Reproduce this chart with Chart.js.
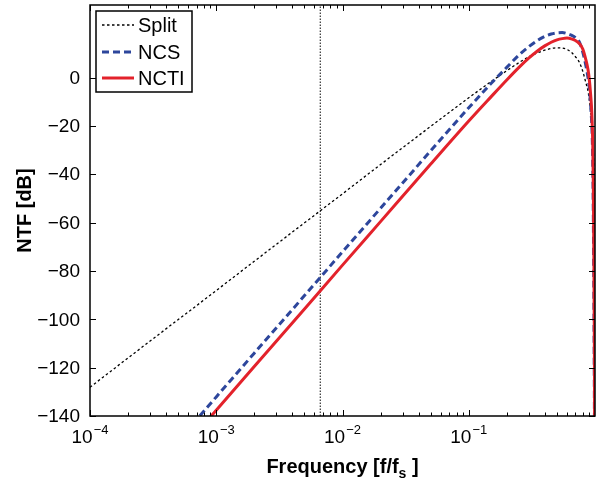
<!DOCTYPE html>
<html>
<head>
<meta charset="utf-8">
<script src="https://cdn.jsdelivr.net/npm/chart.js"></script>
<style>
  html, body { margin: 0; padding: 0; background: #fff; }
  #wrap { width: 596px; height: 482px; }
</style>
</head>
<body>
<div id="wrap"><canvas id="ntf" width="596" height="482"></canvas></div>
<script>
// frecuencia normalizada f/fs (eje log)
const freq = [1e-4, 2e-4, 5e-4, 7e-4, 1e-3, 2e-3, 5e-3, 1e-2, 2e-2, 5e-2,
  0.1, 0.15, 0.2, 0.25, 0.3, 0.35, 0.4, 0.45, 0.5, 0.55,
  0.6, 0.65, 0.7, 0.75, 0.8, 0.85, 0.88, 0.9, 0.92, 0.94,
  0.95, 0.96, 0.97, 0.98, 0.99, 0.995];

// NTF en dB
const splitDb = [-128.1, -116.0, -100.1, -94.3, -88.1, -76.0, -60.1, -48.1, -36.0, -20.2,
  -8.4, -1.7, 2.8, 6.2, 8.6, 10.2, 11.3, 12.0, 12.3, 12.2,
  11.6, 10.4, 8.6, 6.4, 2.6, -2.5, -5.5, -9, -13, -18,
  -21, -25, -30, -37, -49, -61];
const ncsDb = [null, null, -150.2, -141.4, -132.1, -114.0, -90.2, -72.1, -54.1, -30.3,
  -12.5, -2.5, 4.2, 9.3, 12.8, 15.3, 17.0, 18.0, 18.5, 18.6,
  18.2, 17.5, 16.5, 14.8, 10.5, 4.5, 0, -4, -10, -18,
  -24, -36, -58, -92, -140, -175];
const nctiDb = [null, null, null, -147, -137.6, -119.5, -95.7, -77.6, -59.6, -35.8,
  -18.0, -8.0, -1.0, 4.2, 8.1, 11.0, 13.1, 14.6, 15.6, 16.1,
  16.3, 16.0, 15.3, 14.1, 11.8, 7.0, 3.3, -0.5, -6, -13,
  -19, -28, -45, -75, -118, -160];

// línea vertical punteada
const markerFreq = 0.00667;

// ticks
const xDecades = [1e-4, 1e-3, 1e-2, 1e-1, 1];
const yTicks = [-140, -120, -100, -80, -60, -40, -20, 0];
const xRange = [1e-4, 1];
const yRange = [-140, 30];

const FONT = "'Liberation Sans', Arial, Helvetica, sans-serif";

function toPoints(xs, ys) {
  return xs.map((f, i) => ({ x: f, y: ys[i] }));
}

const series = [
  { label: 'Split', data: toPoints(freq, splitDb), borderColor: '#000', borderWidth: 1.3, borderDash: [2.5, 2.5], order: 2 },
  { label: 'NCS', data: toPoints(freq, ncsDb), borderColor: '#2d469c', borderWidth: 3, borderDash: [7, 4], order: 1 },
  { label: 'NCTI', data: toPoints(freq, nctiDb), borderColor: '#e3222b', borderWidth: 3, borderDash: [], order: 0 }
];

// ejes estilo MATLAB: caja, ticks hacia adentro, etiquetas, leyenda
const ejesMatlab = {
  id: 'ejesMatlab',
  afterDraw(chart) {
    const { ctx, chartArea: a, scales: { x, y } } = chart;
    ctx.save();
    ctx.strokeStyle = '#000';
    ctx.fillStyle = '#000';

    // ticks x (mayores y menores), arriba y abajo
    ctx.lineWidth = 1;
    ctx.beginPath();
    for (let k = 0; k < xDecades.length - 1; k++) {
      for (let m = 1; m <= 9; m++) {
        const px = Math.round(x.getPixelForValue(m * xDecades[k])) + 0.5;
        const len = m === 1 ? 6 : 3.5;
        ctx.moveTo(px, a.bottom); ctx.lineTo(px, a.bottom - len);
        ctx.moveTo(px, a.top); ctx.lineTo(px, a.top + len);
      }
    }
    yTicks.forEach(v => {
      const py = Math.round(y.getPixelForValue(v)) + 0.5;
      ctx.moveTo(a.left, py); ctx.lineTo(a.left + 6, py);
      ctx.moveTo(a.right, py); ctx.lineTo(a.right - 6, py);
    });
    ctx.stroke();

    // caja
    ctx.lineWidth = 1.5;
    ctx.strokeRect(a.left, a.top, a.right - a.left, a.bottom - a.top);

    // etiquetas y
    ctx.font = '19px ' + FONT;
    ctx.textAlign = 'right';
    ctx.textBaseline = 'middle';
    yTicks.forEach(v => {
      const txt = v < 0 ? '\u2212' + Math.abs(v) : String(v);
      ctx.fillText(txt, 80, y.getPixelForValue(v) + 1);
    });

    // etiquetas x: 10^k
    ctx.textAlign = 'left';
    ctx.textBaseline = 'alphabetic';
    xDecades.forEach(v => {
      const px = x.getPixelForValue(v);
      if (px > a.right - 1) return;
      const exp = Math.round(Math.log10(v));
      const expTxt = exp < 0 ? '\u2212' + Math.abs(exp) : String(exp);
      ctx.font = '19px ' + FONT;
      const w1 = ctx.measureText('10').width;
      ctx.font = '13px ' + FONT;
      const w2 = ctx.measureText(expTxt).width;
      const x0 = px - (w1 + w2 + 1) / 2;
      ctx.font = '19px ' + FONT;
      ctx.fillText('10', x0, 443);
      ctx.font = '13px ' + FONT;
      ctx.fillText(expTxt, x0 + w1 + 1, 434);
    });

    // título x con subíndice
    const p1 = 'Frequency [f/f', p2 = 's', p3 = ' ]';
    ctx.font = 'bold 20px ' + FONT;
    const w1 = ctx.measureText(p1).width, w3 = ctx.measureText(p3).width;
    ctx.font = 'bold 14px ' + FONT;
    const w2 = ctx.measureText(p2).width;
    let tx = (a.left + a.right) / 2 - (w1 + w2 + w3) / 2;
    ctx.font = 'bold 20px ' + FONT;
    ctx.fillText(p1, tx, 473);
    ctx.font = 'bold 14px ' + FONT;
    ctx.fillText(p2, tx + w1, 478);
    ctx.font = 'bold 20px ' + FONT;
    ctx.fillText(p3, tx + w1 + w2, 473);

    // título y
    ctx.save();
    ctx.translate(31, (a.top + a.bottom) / 2);
    ctx.rotate(-Math.PI / 2);
    ctx.textAlign = 'center';
    ctx.fillText('NTF [dB]', 0, 0);
    ctx.restore();

    // leyenda
    const lx = 96, ly = 11, lw = 96, lh = 81;
    ctx.fillStyle = '#fff';
    ctx.fillRect(lx, ly, lw, lh);
    ctx.lineWidth = 1.5;
    ctx.strokeStyle = '#000';
    ctx.strokeRect(lx, ly, lw, lh);
    const rowsY = [25, 52, 78];
    series.forEach((s, i) => {
      ctx.strokeStyle = s.borderColor;
      ctx.lineWidth = s.borderWidth;
      ctx.setLineDash(s.borderDash);
      ctx.beginPath();
      ctx.moveTo(102, rowsY[i]);
      ctx.lineTo(134, rowsY[i]);
      ctx.stroke();
      ctx.setLineDash([]);
      ctx.fillStyle = '#000';
      ctx.font = '20px ' + FONT;
      ctx.textAlign = 'left';
      ctx.textBaseline = 'middle';
      ctx.fillText(s.label, 138, rowsY[i] + 1);
    });
    ctx.restore();
  }
};

new Chart(document.getElementById('ntf').getContext('2d'), {
  type: 'line',
  data: {
    datasets: [
      ...series.map(s => ({
        label: s.label, data: s.data, borderColor: s.borderColor, borderWidth: s.borderWidth,
        borderDash: s.borderDash, order: s.order, pointRadius: 0, fill: false,
        cubicInterpolationMode: 'monotone'
      })),
      {
        label: 'marker',
        data: [{ x: markerFreq, y: yRange[0] }, { x: markerFreq, y: yRange[1] }],
        borderColor: '#333', borderWidth: 1.2, borderDash: [1.5, 1.5], pointRadius: 0, order: 3
      }
    ]
  },
  options: {
    responsive: false,
    animation: false,
    devicePixelRatio: 1,
    layout: { padding: { top: 5, right: 1, left: 0, bottom: 0 } },
    plugins: { legend: { display: false }, tooltip: { enabled: false } },
    scales: {
      x: {
        type: 'logarithmic', min: xRange[0], max: xRange[1],
        grid: { display: false }, border: { display: false }, ticks: { display: false },
        afterBuildTicks: s => { s.ticks = xDecades.map(v => ({ value: v })); },
        afterFit: s => { s.height = 66; }
      },
      y: {
        type: 'linear', min: yRange[0], max: yRange[1],
        grid: { display: false }, border: { display: false }, ticks: { display: false },
        afterBuildTicks: s => { s.ticks = yTicks.map(v => ({ value: v })); },
        afterFit: s => { s.width = 90; }
      }
    }
  },
  plugins: [ejesMatlab]
});
</script>
</body>
</html>
